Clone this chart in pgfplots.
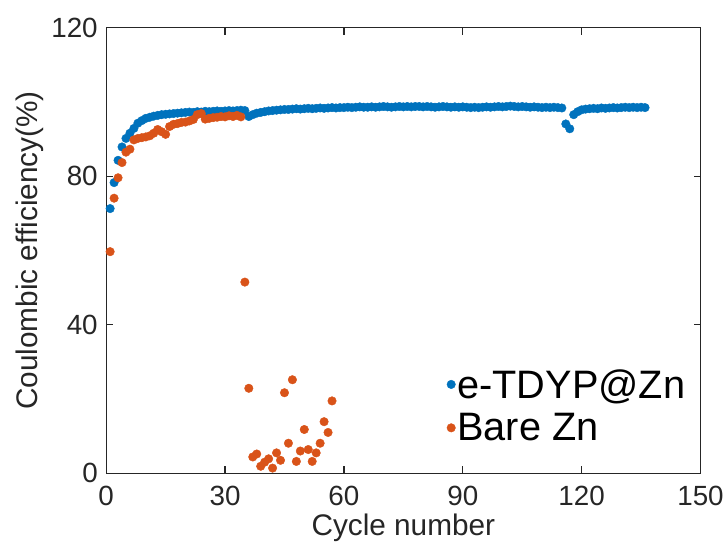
\documentclass[border=0pt]{standalone}
\usepackage{fontspec}
\setmainfont{Liberation Sans}
\usepackage{pgfplots}
\pgfplotsset{compat=1.18}
\definecolor{mblue}{HTML}{0072BD}
\definecolor{morange}{HTML}{D95319}
\definecolor{axgray}{HTML}{262626}

\pgfplotstableread{
x y
1 71.3
2 78.3
3 84.3
4 87.9
5 90.2
6 91.6
7 92.9
8 94.3
9 95.0
10 95.6
11 95.9
12 96.2
13 96.4
14 96.6
15 96.7
16 96.8
17 96.9
18 97.0
19 97.1
20 97.2
21 97.3
22 97.2
23 97.4
24 97.3
25 97.5
26 97.4
27 97.5
28 97.6
29 97.5
30 97.6
31 97.7
32 97.6
33 97.7
34 97.8
35 97.7
36 96.1
37 96.6
38 97.0
39 97.2
40 97.4
41 97.6
42 97.7
43 97.8
44 97.9
45 98.0
46 98.0
47 98.1
48 98.2
49 98.1
50 98.2
51 98.3
52 98.2
53 98.3
54 98.4
55 98.3
56 98.4
57 98.5
58 98.4
59 98.5
60 98.5
61 98.6
62 98.5
63 98.6
64 98.7
65 98.6
66 98.6
67 98.7
68 98.6
69 98.7
70 98.8
71 98.7
72 98.6
73 98.7
74 98.8
75 98.7
76 98.8
77 98.7
78 98.8
79 98.8
80 98.7
81 98.8
82 98.7
83 98.6
84 98.7
85 98.8
86 98.7
87 98.6
88 98.7
89 98.6
90 98.7
91 98.6
92 98.5
93 98.6
94 98.5
95 98.6
96 98.7
97 98.6
98 98.7
99 98.8
100 98.7
101 98.8
102 98.9
103 98.8
104 98.7
105 98.8
106 98.7
107 98.6
108 98.7
109 98.6
110 98.5
111 98.6
112 98.5
113 98.6
114 98.5
115 98.4
116 94.1
117 92.8
118 96.6
119 97.4
120 97.9
121 98.1
122 98.2
123 98.3
124 98.2
125 98.4
126 98.3
127 98.4
128 98.5
129 98.4
130 98.5
131 98.6
132 98.5
133 98.6
134 98.5
135 98.6
136 98.5
}\tblue

\pgfplotstableread{
x y
1 59.7
2 74.1
3 79.6
4 83.7
5 86.5
6 87.3
7 89.8
8 90.2
9 90.4
10 90.6
11 90.9
12 91.6
13 92.6
14 92.0
15 91.3
16 93.4
17 94.0
18 94.2
19 94.5
20 94.6
21 94.9
22 95.3
23 96.6
24 96.9
25 95.4
26 95.6
27 95.8
28 95.9
29 96.1
30 96.0
31 96.3
32 96.1
33 96.4
34 96.0
35 51.5
36 22.9
37 4.4
38 5.2
39 1.9
40 3.0
41 3.9
42 1.4
43 5.5
44 3.5
45 21.7
46 8.1
47 25.2
48 3.2
49 6.0
50 11.8
51 6.4
52 3.2
53 5.5
54 8.1
55 13.9
56 11.0
57 19.5
}\torange

\begin{document}
\begin{tikzpicture}
\begin{axis}[name=ax, scale only axis, width=599pt, height=449pt,
  xmin=0, xmax=150, ymin=0, ymax=120,
  xtick={0,30,60,90,120,150}, ytick={0,40,80,120},
  tick align=inside, tick pos=both,
  major tick length=7pt,
  axis line style={axgray, line width=1.2pt},
  every tick/.style={axgray, line width=1.2pt},
  /pgf/number format/assume math mode=true,
  every tick label/.append style={font=\fontsize{28}{34}\selectfont, text=axgray},
  xticklabel style={yshift=-9pt},
  yticklabel style={xshift=-5pt},
  xlabel={Cycle number}, ylabel={Coulombic efficiency(\%)},
  every axis x label/.style={at={(rel axis cs:0.5,0)}, anchor=center, yshift=-55pt, font=\fontsize{30}{36}\selectfont, text=axgray},
  every axis y label/.style={at={(rel axis cs:0,0.5)}, anchor=center, xshift=-77pt, rotate=90, font=\fontsize{30}{36}\selectfont, text=axgray},
  legend style={draw=none, fill=none, at={(0.568,0.2428)}, anchor=north west,
    font=\fontsize{40}{43}\selectfont, row sep=10pt,
    nodes={inner sep=2pt},
    /tikz/every even column/.append style={column sep=9pt}},
  legend cell align=left,
  legend image code/.code={\draw[#1] plot coordinates {(6pt,0pt)};},
]
\addplot[only marks, mark=*, mark size=4.3pt, mblue, mark options={draw=mblue, fill=mblue}] table {\tblue};
\addlegendentry{e-TDYP@Zn}
\addplot[only marks, mark=*, mark size=4.3pt, morange, mark options={draw=morange, fill=morange}] table {\torange};
\addlegendentry{Bare Zn}
\end{axis}
\path[use as bounding box] ([shift={(-107pt,-86pt)}]ax.south west) rectangle ([shift={(21pt,28pt)}]ax.north east);
\end{tikzpicture}
\end{document}
